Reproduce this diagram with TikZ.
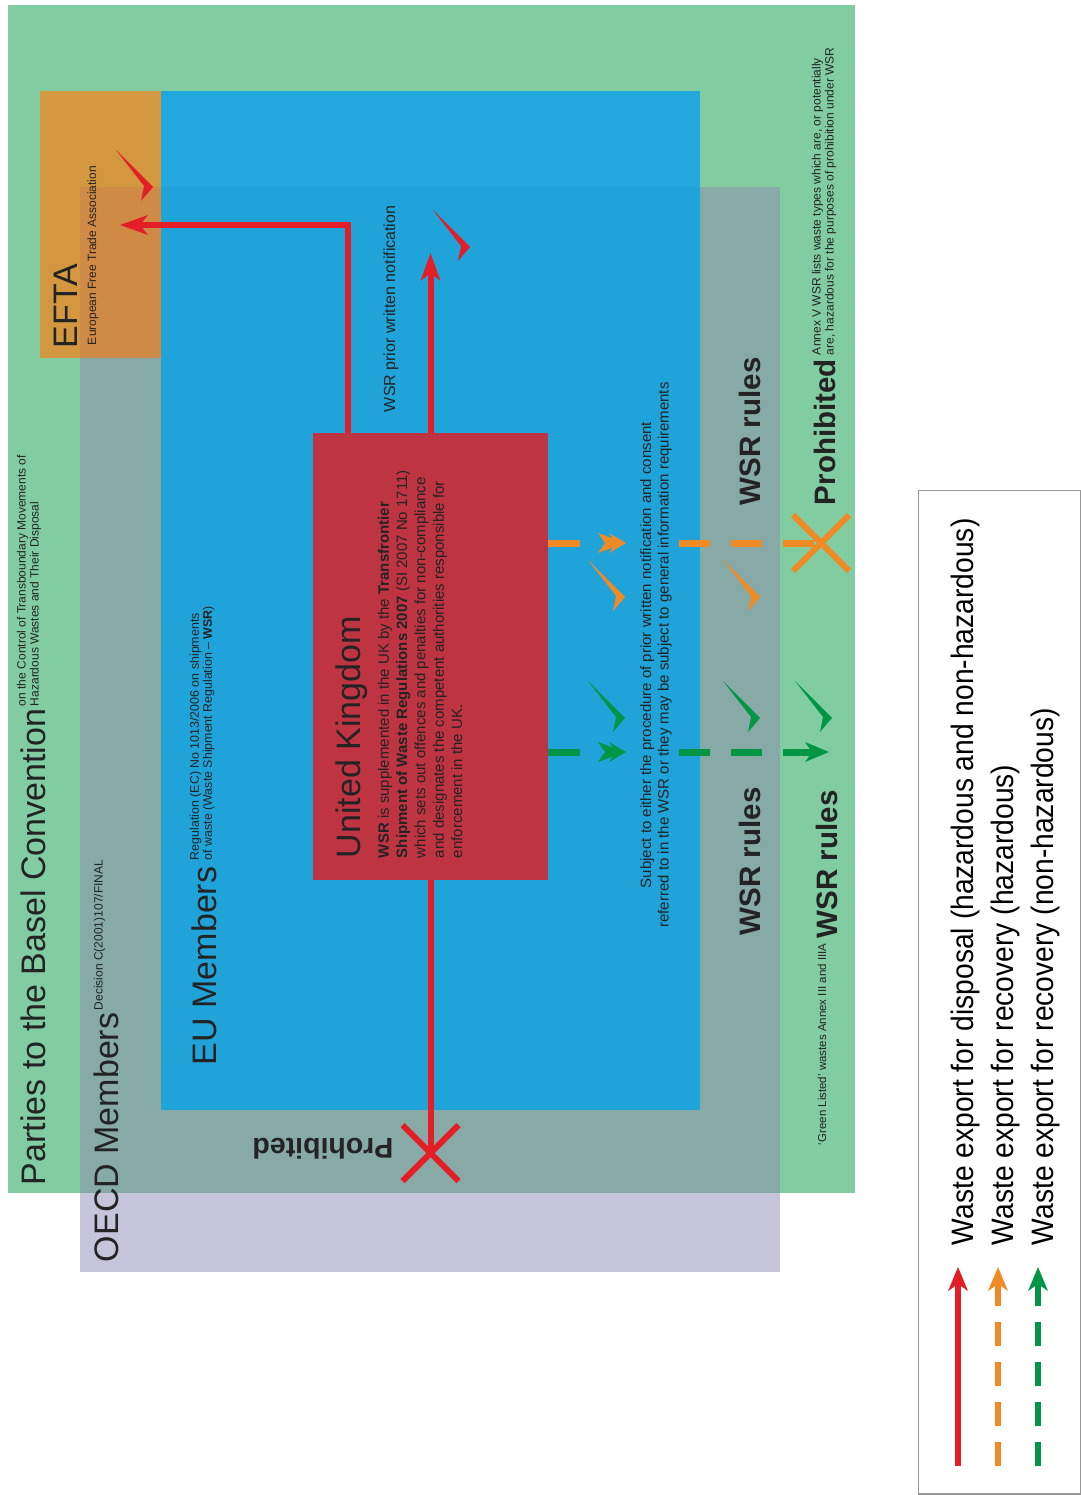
\documentclass[tikz,border=0pt]{standalone}
\usepackage{fontspec}
\setmainfont{Liberation Sans}
\newfontfamily\condfont[FakeStretch=0.91]{Liberation Sans}
\usetikzlibrary{arrows.meta}
\definecolor{basel}{RGB}{129,204,161}
\definecolor{oecdmix}{RGB}{135,170,166}
\definecolor{oecd}{RGB}{198,196,219}
\definecolor{efta}{RGB}{211,151,64}
\definecolor{eftamix}{RGB}{207,139,70}
\definecolor{eu}{RGB}{31,163,216}
\definecolor{eulight}{RGB}{34,168,220}
\definecolor{ukred}{RGB}{191,52,66}
\definecolor{ared}{RGB}{228,30,38}
\definecolor{aorange}{RGB}{240,138,36}
\definecolor{agreen}{RGB}{0,150,69}
\definecolor{txt}{RGB}{35,35,35}
\definecolor{lgborder}{RGB}{150,150,150}
\tikzset{
  lbl/.style={inner sep=0pt, outer sep=0pt, text=txt, rotate=90},
  bigtitle/.style={lbl, anchor=base west, font=\fontsize{34}{40}\selectfont},
  smallnote/.style={lbl, anchor=north west, align=left, font=\fontsize{12}{13}\selectfont},
  boldlbl/.style={lbl, anchor=base west, font=\fontsize{29.5}{34}\selectfont\bfseries},
  redline/.style={draw=ared, line width=6pt},
  redhead/.style={-{Stealth[length=28pt,width=20pt,inset=8pt,line width=0pt]}},
  odash/.style={draw=aorange, line width=7pt},
  gdash/.style={draw=agreen, line width=7pt},
  tick/.pic={\path[pic actions] (-37,-37) -- (0,0) -- (-12,14) -- (-9,-1) -- cycle;},
  midhead/.pic={\path[pic actions] (0,0) -- (-17,-10) -- (-13,-4.5) -- (-28,-10) -- (-21,0) -- (-28,10) -- (-13,4.5) -- (-17,10) -- cycle;},
  xmark/.pic={\draw[pic actions, line width=6pt] (-28,-28) -- (28,28) (-28,28) -- (28,-28);},
  legtext/.style={lbl, anchor=base west, text=black, font=\fontsize{31}{36}\selectfont\condfont},
}
\begin{document}
\begin{tikzpicture}[x=1pt,y=-1pt]
\useasboundingbox (0,0) rectangle (1080,1495);
\fill[white] (0,0) rectangle (1080,1495);
% regions
\fill[basel] (8,5) rectangle (855,1193);
\fill[oecd] (80,187) rectangle (780,1272);
\fill[oecdmix] (80,187) rectangle (780,1193);
\fill[efta] (40,91) rectangle (161,358);
\fill[eftamix] (80,187) rectangle (161,358);
\fill[eu] (161,91) rectangle (700,1110);
\fill[eulight] (161,91) rectangle (700,187);
\node[fill=ukred, minimum width=235pt, minimum height=447pt, inner sep=0pt, outer sep=0pt] (uk) at (430.5,656.5) {};

% titles
\node[bigtitle] (basel) at (45,1185) {Parties to the Basel Convention};
\node[smallnote] (baselnote) at (17,706) {on the Control of Transboundary Movements of\\Hazardous Wastes and Their Disposal};
\node[bigtitle] (oecdt) at (118,1262) {OECD Members};
\node[smallnote] (oecdnote) at (94,1010) {Decision C(2001)107/FINAL};
\node[bigtitle] (eftat) at (77,348) {EFTA};
\node[lbl, anchor=base west, font=\fontsize{12}{13}\selectfont] (eftanote) at (96,345) {European Free Trade Association};
\node[bigtitle] (eut) at (216,1065) {EU Members};
\node[smallnote, font=\fontsize{12.4}{13}\selectfont] (eunote) at (190,860) {Regulation (EC) No 1013/2006 on shipments\\of waste (Waste Shipment Regulation -- \textbf{WSR})};
\node[bigtitle] (ukt) at (360,858) {United Kingdom};
\node[lbl, anchor=north west, align=left, font=\fontsize{15}{18.3}\selectfont] (uknote) at (378,858)
  {\textbf{WSR} is supplemented in the UK by the \textbf{Transfrontier}\\
   \textbf{Shipment of Waste Regulations 2007} (SI 2007 No 1711)\\
   which sets out offences and penalties for non-compliance\\
   and designates the competent authorities responsible for\\
   enforcement in the UK.};
\node[lbl, anchor=base west, font=\fontsize{16}{18}\selectfont] (prior) at (395,412) {WSR prior written notification};
\node[lbl, align=center, font=\fontsize{15}{17.5}\selectfont] (subject) at (656,655)
  {Subject to either the procedure of prior written notification and consent\\
   referred to in the WSR or they may be subject to general information requirements};
\node[boldlbl] (wsr1) at (760,505) {WSR rules};
\node[boldlbl] (wsr2) at (760,935) {WSR rules};
\node[boldlbl] (wsr3) at (837,938) {WSR rules};
\node[boldlbl] (prohib) at (835,505) {Prohibited};
\node[smallnote] (annexv) at (812,355) {Annex V WSR lists waste types which are, or potentially\\are, hazardous for the purposes of prohibition under WSR};
\node[lbl, anchor=base west, font=\fontsize{11.5}{13}\selectfont] (green) at (826,1145) {`Green Listed' wastes Annex III and IIIA};
\node[inner sep=0pt, text=txt, rotate=180, font=\fontsize{28.5}{32}\selectfont\bfseries] (prohib2) at (323,1149) {Prohibited};

% red connectors
\coordinate (redtip) at (430.5,253);
\coordinate (eftatip) at (120,225);
\coordinate (efout) at (348,433);
\coordinate (redx) at (430.5,1153);
\draw[redline, redhead] (uk.north) -- (redtip);
\draw[redline, redhead] (efout) |- (eftatip);
\draw[redline] (uk.south) -- (redx);
\pic[draw=ared] at (redx) {xmark};
\pic[fill=ared] at (153,187) {tick};
\pic[fill=ared] at (470,247) {tick};

% orange dashed connector
\coordinate (ostart) at (548,543);
\coordinate (omid) at (626,543);
\coordinate (oresume) at (679,543);
\coordinate (ox) at (821,543);
\draw[odash, dash pattern=on 32pt off 50pt] (ostart) -- (omid);
\pic[fill=aorange] at (omid) {midhead};
\draw[odash, dash pattern=on 31pt off 21pt] (oresume) -- (ox);
\pic[draw=aorange] at (ox) {xmark};
\pic[fill=aorange] at (625,597) {tick};
\pic[fill=aorange] at (760,597) {tick};

% green dashed connector
\coordinate (gstart) at (548,752);
\coordinate (gmid) at (626,752);
\coordinate (gresume) at (679,752);
\coordinate (gtip) at (829,752);
\draw[gdash, dash pattern=on 32pt off 50pt] (gstart) -- (gmid);
\pic[fill=agreen] at (gmid) {midhead};
\draw[gdash, dash pattern=on 31pt off 21pt, -{Stealth[length=24pt,width=20pt,inset=7pt,line width=0pt]}] (gresume) -- (gtip);
\pic[fill=agreen] at (625,718) {tick};
\pic[fill=agreen] at (760,718) {tick};
\pic[fill=agreen] at (832,718) {tick};

% legend
\draw[lgborder, line width=1.2pt] (918.5,490.5) rectangle (1080.5,1494);
\coordinate (l1a) at (958,1466);
\coordinate (l1b) at (958,1267);
\coordinate (l2a) at (998,1466);
\coordinate (l2b) at (998,1267);
\coordinate (l3a) at (1038,1466);
\coordinate (l3b) at (1038,1267);
\draw[redline, -{Stealth[length=24pt,width=20pt,inset=7pt,line width=0pt]}] (l1a) -- (l1b);
\draw[odash, line width=6pt, dash pattern=on 24pt off 16pt, -{Stealth[length=24pt,width=20pt,inset=7pt,line width=0pt]}] (l2a) -- (l2b);
\draw[gdash, line width=6pt, dash pattern=on 24pt off 16pt, -{Stealth[length=24pt,width=20pt,inset=7pt,line width=0pt]}] (l3a) -- (l3b);
\node[legtext] (leg1) at (973,1245) {Waste export for disposal (hazardous and non-hazardous)};
\node[legtext] (leg2) at (1013,1245) {Waste export for recovery (hazardous)};
\node[legtext] (leg3) at (1053,1245) {Waste export for recovery (non-hazardous)};
\end{tikzpicture}
\end{document}
